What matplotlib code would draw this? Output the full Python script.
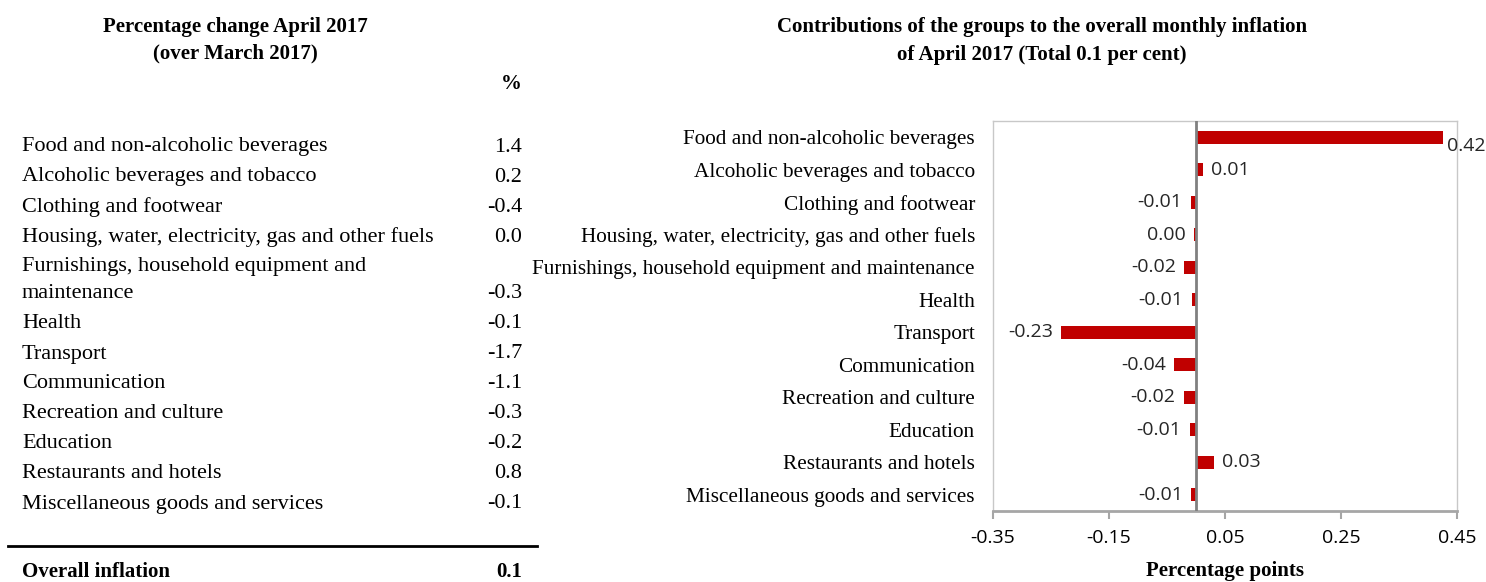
import matplotlib
matplotlib.use("Agg")
import matplotlib.pyplot as plt

# ---- data ----
categories = [
    "Food and non-alcoholic beverages",
    "Alcoholic beverages and tobacco",
    "Clothing and footwear",
    "Housing, water, electricity, gas and other fuels",
    "Furnishings, household equipment and maintenance",
    "Health",
    "Transport",
    "Communication",
    "Recreation and culture",
    "Education",
    "Restaurants and hotels",
    "Miscellaneous goods and services",
]
table_labels = [
    "Food and non-alcoholic beverages",
    "Alcoholic beverages and tobacco",
    "Clothing and footwear",
    "Housing, water, electricity, gas and other fuels",
    "Furnishings, household equipment and\nmaintenance",
    "Health",
    "Transport",
    "Communication",
    "Recreation and culture",
    "Education",
    "Restaurants and hotels",
    "Miscellaneous goods and services",
]
pct_change = ["1.4", "0.2", "-0.4", "0.0", "-0.3", "-0.1", "-1.7", "-1.1", "-0.3", "-0.2", "0.8", "-0.1"]
contributions = [0.425, 0.012, -0.009, -0.003, -0.020, -0.007, -0.232, -0.038, -0.021, -0.011, 0.031, -0.008]
overall_label = "Overall inflation"
overall_value = "0.1"
xticks = [-0.35, -0.15, 0.05, 0.25, 0.45]

W, H = 1486, 582
fig = plt.figure(figsize=(W / 100, H / 100), dpi=100)

def fx(px):
    return px / W

def fy(py):
    return 1 - py / H

SERIF = ["Liberation Serif", "DejaVu Serif"]
SANS = ["Open Sans", "DejaVu Sans"]
TFS = 16   # table font size

# ---- left table ----
fig.text(fx(235), fy(27), "Percentage change April 2017", ha="center", va="center",
         family=SERIF, weight="bold", fontsize=15)
fig.text(fx(235), fy(53), "(over March 2017)", ha="center", va="center",
         family=SERIF, weight="bold", fontsize=15)
fig.text(fx(522), fy(84), "%", ha="right", va="center", family=SERIF, weight="bold", fontsize=15)

row_y = [147, 177, 207, 237, 280, 323, 354, 383, 413, 443, 474, 504]
for lab, val, y in zip(table_labels, pct_change, row_y):
    fig.text(fx(22), fy(y), lab, ha="left", va="center", family=SERIF, fontsize=TFS,
             linespacing=1.55)
    vy = y + 14 if "\n" in lab else y
    fig.text(fx(522), fy(vy), val, ha="right", va="center", family=SERIF, fontsize=TFS)

fig.add_artist(plt.Line2D([fx(8), fx(537)], [fy(546), fy(546)], color="black", lw=2))
fig.text(fx(22), fy(572), overall_label, ha="left", va="center", family=SERIF,
         weight="bold", fontsize=15)
fig.text(fx(522), fy(572), overall_value, ha="right", va="center", family=SERIF,
         weight="bold", fontsize=15)

# ---- right chart ----
fig.text(fx(1042), fy(27), "Contributions of the groups to the overall monthly inflation",
         ha="center", va="center", family=SERIF, weight="bold", fontsize=15)
fig.text(fx(1042), fy(55), "of April 2017 (Total 0.1 per cent)",
         ha="center", va="center", family=SERIF, weight="bold", fontsize=15)

ax = fig.add_axes([fx(993), fy(511), fx(1457) - fx(993), (511 - 121) / H])
ypos = list(range(len(categories)))
ax.barh(ypos, contributions, height=0.4, color="#C00000", zorder=2)
ax.set_xlim(-0.35, 0.45)
ax.set_ylim(len(categories) - 0.5, -0.5)
ax.axvline(0, color="#808080", lw=2, zorder=3)

ax.set_yticks(ypos)
ax.set_yticklabels(categories, family=SERIF, fontsize=15.3)
ax.tick_params(axis="y", length=0, pad=13)
ax.set_xticks(xticks)
ax.set_xticklabels([f"{t:.2f}" for t in xticks], family=SANS, fontsize=14)
ax.tick_params(axis="x", direction="out", length=6, width=1.5, color="#A6A6A6", pad=7)

for s in ["left", "top", "right"]:
    ax.spines[s].set_color("#C8C8C8")
    ax.spines[s].set_linewidth(1)
ax.spines["bottom"].set_color("#A6A6A6")
ax.spines["bottom"].set_linewidth(2)

for i, v in enumerate(contributions):
    txt = f"{v:.2f}"
    if txt == "-0.00":
        txt = "0.00"
    if v >= 0:
        dy = 6 if i == 0 else 0
        ax.annotate(txt, (v, i), xytext=(3 if i == 0 else 6, -dy), textcoords="offset points",
                    ha="left", va="center", family=SANS, fontsize=14, color="#262626",
                    annotation_clip=False)
    else:
        ax.annotate(txt, (v, i), xytext=(-6, 0), textcoords="offset points",
                    ha="right", va="center", family=SANS, fontsize=14, color="#262626",
                    annotation_clip=False)

ax.set_xlabel("Percentage points", family=SERIF, weight="bold", fontsize=15)
ax.xaxis.label.set_va("center")
ax.xaxis.set_label_coords(0.5, -(571 - 511) / 390)

fig.savefig("out.png", dpi=100)
